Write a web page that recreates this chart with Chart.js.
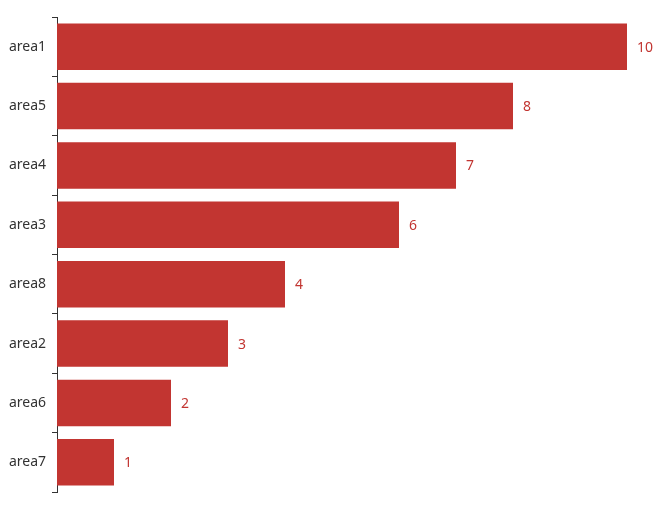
<!DOCTYPE html>
<html>
<head>
<meta charset="utf-8">
<script src="https://cdn.jsdelivr.net/npm/chart.js@4"></script>
<style>
  html, body { margin: 0; padding: 0; background: #fff; }
  #wrap { width: 667px; height: 510px; }
</style>
</head>
<body>
<div id="wrap"><canvas id="grafica"></canvas></div>
<script>
const categorias = ["area1", "area5", "area4", "area3", "area8", "area2", "area6", "area7"];
const valores = [10, 8, 7, 6, 4, 3, 2, 1];
const colorBarra = "#c23531";

// etiquetas de valor al final de cada barra
const etiquetasValor = {
  id: "etiquetasValor",
  afterDatasetsDraw(chart) {
    const ctx = chart.ctx;
    const meta = chart.getDatasetMeta(0);
    ctx.save();
    ctx.fillStyle = colorBarra;
    ctx.font = "14px 'Noto Sans', sans-serif";
    ctx.textBaseline = "middle";
    ctx.textAlign = "left";
    meta.data.forEach((bar, i) => {
      ctx.fillText(String(valores[i]), bar.x + 10, bar.y + 1);
    });
    ctx.restore();
  }
};

const ctx1 = document.getElementById("grafica").getContext("2d");
const chart1 = new Chart(ctx1, {
  type: "bar",
  data: {
    labels: categorias,
    datasets: [{
      data: valores,
      backgroundColor: colorBarra,
      barPercentage: 0.98,
      categoryPercentage: 0.8
    }]
  },
  options: {
    indexAxis: "y",
    responsive: true,
    maintainAspectRatio: false,
    animation: false,
    layout: { padding: { top: 17, right: 40, bottom: 18, left: 0 } },
    plugins: {
      legend: { display: false },
      tooltip: { enabled: false }
    },
    scales: {
      x: { display: false, min: 0, max: 10 },
      y: {
        afterFit(scale) { scale.width = 57; },
        border: { display: true, color: "#333", width: 1 },
        grid: {
          drawOnChartArea: false,
          drawTicks: true,
          tickLength: 5,
          color: "#333",
          offset: true
        },
        ticks: {
          color: "#333",
          padding: 6,
          font: { family: "'Noto Sans', sans-serif", size: 14 }
        }
      }
    }
  },
  plugins: [etiquetasValor]
});
</script>
</body>
</html>
